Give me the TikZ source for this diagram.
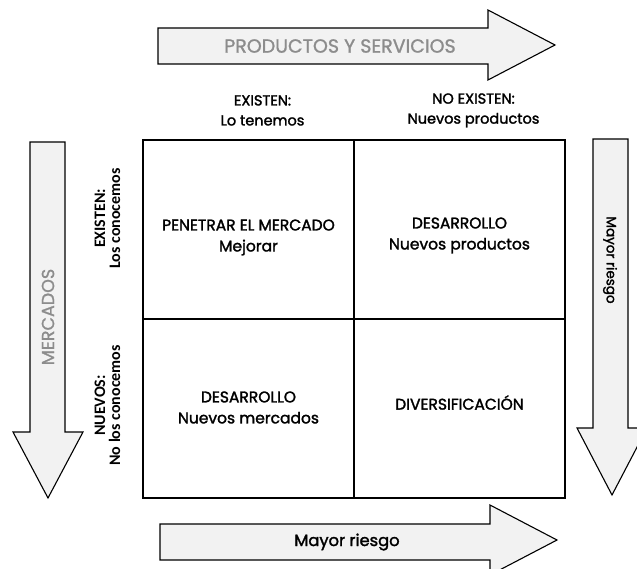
\documentclass[tikz,border=0pt]{standalone}
\usepackage{fontspec}
\setmainfont{Poppins}
\newfontfamily\medfont{Poppins}[FakeBold=1.2]
\newfontfamily\negfont{Poppins}[FakeBold=1.8]
\newfontfamily\rotfont{Carlito}
\usetikzlibrary{matrix,positioning}
\definecolor{light-gray}{gray}{0.95}
\definecolor{text-gray}{gray}{0.55}
\newcommand*\celfont{\negfont\fontsize{15.5}{21}\selectfont}
\newcommand*\cabfont{\negfont\fontsize{14.5}{20}\selectfont}

\begin{document}
\begin{tikzpicture}[x=1pt,y=-1pt,
	flecha/.style={draw=black,line width=1.1pt,fill=light-gray,line join=miter},
	celda/.style={draw,line width=1.2pt,minimum width=211pt,minimum height=179pt},
	cuadro/.style={matrix of nodes,row sep=-1.2pt,column sep=-1.2pt,nodes={celda},nodes in empty cells},
	texto/.style={align=center,font=\celfont},
	cabecera/.style={align=center,font=\cabfont},
	lateral/.style={align=center,rotate=90,font=\rotfont\bfseries\fontsize{16}{15}\selectfont},
	rotulo/.style={text=text-gray,font=\medfont\fontsize{19}{22}\selectfont}]
	\useasboundingbox (0,0) rectangle (637,569);
	% flechas
	\draw[flecha] (158,28) -- (488,28) -- (488,10) -- (555,45) -- (488,80) -- (488,64) -- (158,64) -- cycle;
	\draw[flecha] (30,142) -- (65,142) -- (65,432) -- (83,432) -- (48,498) -- (13,432) -- (30,432) -- cycle;
	\draw[flecha] (593,139) -- (628,139) -- (628,428) -- (647,428) -- (612,495) -- (577,428) -- (593,428) -- cycle;
	\draw[flecha] (160,524) -- (490,524) -- (490,505) -- (557,540) -- (490,575) -- (490,560) -- (160,560) -- cycle;
	\node[rotulo] (productos) at (340,46) {PRODUCTOS Y SERVICIOS};
	\node[rotulo,rotate=90,font=\medfont\fontsize{17.5}{20}\selectfont] (mercados) at (48,317) {MERCADOS};
	\node[texto,rotate=-90,font=\negfont\fontsize{13.5}{16}\selectfont] (riesgoder) at (610,260) {Mayor riesgo};
	\node[texto,font=\negfont\fontsize{16.3}{18}\selectfont] (riesgoinf) at (347,542) {Mayor riesgo};
	% matriz
	\matrix (cuadro) [cuadro] at (354,319)
	{
		& \\
		& \\
	};
	\node[texto] (penetrar) at ([yshift=-8pt]cuadro-1-1.center) {PENETRAR EL MERCADO\\Mejorar};
	\node[texto] (desprod) at ([yshift=-6pt]cuadro-1-2.center) {DESARROLLO\\Nuevos productos};
	\node[texto] (desmerc) at ([yshift=1pt]cuadro-2-1.center) {DESARROLLO\\Nuevos mercados};
	\node[texto] (divers) at ([yshift=6pt]cuadro-2-2.center) {DIVERSIFICACIÓN};
	\node[cabecera] (existen) at ([xshift=14pt,yshift=29pt]cuadro-1-1.north) {EXISTEN:\\Lo tenemos};
	\node[cabecera] (noexisten) at ([xshift=14pt,yshift=29pt]cuadro-1-2.north) {NO EXISTEN:\\Nuevos productos};
	\node[lateral] (conocemos) at ([xshift=-35pt,yshift=11pt]cuadro-1-1.west) {EXISTEN:\\Los conocemos};
	\node[lateral] (nuevos) at ([xshift=-35pt,yshift=3pt]cuadro-2-1.west) {NUEVOS:\\No los conocemos};
\end{tikzpicture}
\end{document}
